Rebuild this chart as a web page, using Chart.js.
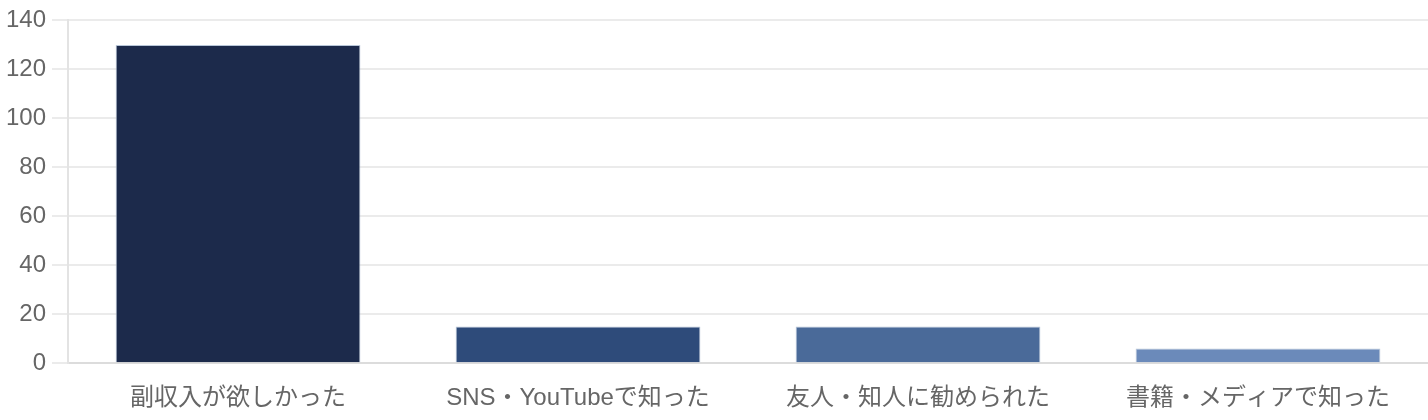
<!DOCTYPE html>
<html lang="ja">
<head>
<meta charset="utf-8">
<title>きっかけ</title>
<script src="https://cdn.jsdelivr.net/npm/chart.js@4/dist/chart.umd.min.js"></script>
<style>
    html, body { margin: 0; padding: 0; background: #fff; }
    #wrap { width: 1428px; height: 420px; }
</style>
</head>
<body>
<div id="wrap"><canvas id="chartMotivo" width="1428" height="420"></canvas></div>
<script>
const categorias = ['副収入が欲しかった', 'SNS・YouTubeで知った', '友人・知人に勧められた', '書籍・メディアで知った'];
const valores = [130, 15, 15, 6];
const colores = ['#1c2a4b', '#2e4b7a', '#4a6a99', '#6b8aba'];
const ticksY = [0, 20, 40, 60, 80, 100, 120, 140];

const fuente = {
    family: '"Liberation Sans", "Noto Sans CJK JP", sans-serif',
    size: 24
};

const ctx = document.getElementById('chartMotivo');

const chart = new Chart(ctx, {
    type: 'bar',
    data: {
        labels: categorias,
        datasets: [{
            data: valores,
            backgroundColor: colores,
            borderColor: '#b8c6d8',
            borderWidth: 1
        }]
    },
    options: {
        responsive: false,
        animation: false,
        devicePixelRatio: 1,
        layout: {
            padding: { left: 0, right: 0, top: 6, bottom: -2 }
        },
        plugins: {
            legend: { display: false },
            tooltip: { enabled: false }
        },
        scales: {
            x: {
                grid: { display: false, tickLength: 12 },
                border: { display: true, color: '#dcdcdc', width: 2 },
                ticks: { color: '#666', font: fuente, padding: 9 }
            },
            y: {
                min: 0,
                max: ticksY[ticksY.length - 1],
                afterBuildTicks: (axis) => {
                    axis.ticks = ticksY.map(v => ({ value: v })); // ticks fijos
                },
                grid: { color: '#ebebeb', lineWidth: 2, tickLength: 16 },
                border: { display: true, color: '#e3e3e3', width: 2 },
                ticks: { color: '#666', font: fuente, padding: 6 }
            }
        }
    }
});
</script>
</body>
</html>
